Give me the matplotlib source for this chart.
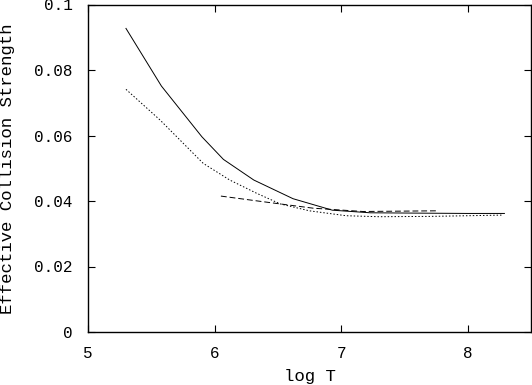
import matplotlib
matplotlib.use("Agg")
import matplotlib.pyplot as plt

solid_x = [5.30, 5.58, 5.90, 6.07, 6.31, 6.62, 6.93, 7.23, 7.6, 8.0, 8.29]
solid_y = [0.0927, 0.0751, 0.0596, 0.0527, 0.0464, 0.0407, 0.0372, 0.0364, 0.0363, 0.0362, 0.0362]

dot_x = [5.30, 5.57, 5.91, 6.12, 6.33, 6.52, 6.75, 7.04, 7.30, 7.7, 8.0, 8.28]
dot_y = [0.0741, 0.0647, 0.0515, 0.0464, 0.0424, 0.0391, 0.0370, 0.0355, 0.0352, 0.0353, 0.0355, 0.0357]

dash_x = [6.05, 6.38, 6.78, 7.17, 7.75]
dash_y = [0.0415, 0.0398, 0.0378, 0.0368, 0.0370]

xticks = [5, 6, 7, 8]
yticks = [0, 0.02, 0.04, 0.06, 0.08, 0.1]
yticklabels = ["0", "0.02", "0.04", "0.06", "0.08", "0.1"]

plt.rcParams['font.family'] = ['Liberation Mono', 'DejaVu Sans Mono']
fig = plt.figure(figsize=(5.32, 3.85), dpi=100)
ax = fig.add_axes([88/532, 1-332/385, (531-88)/532, (332-4.5)/385])
ax.plot(solid_x, solid_y, color='black', lw=0.7, ls='-')
ax.plot(dot_x, dot_y, color='black', lw=0.7, ls=(0, (1.5, 2)))
ax.plot(dash_x, dash_y, color='black', lw=0.7, ls=(0, (6, 3)))
ax.set_xlim(5, 8.5)
ax.set_ylim(0, 0.1)
ax.set_xticks(xticks)
ax.set_xticklabels([str(t) for t in xticks])
ax.set_yticks(yticks)
ax.set_yticklabels(yticklabels)
ax.tick_params(axis='y', direction='in', right=True, length=5, width=0.8, labelsize=11.5, pad=11)
ax.tick_params(axis='x', direction='in', top=True, length=5, width=0.8, labelsize=11.5, pad=10)
for s in ax.spines.values():
    s.set_linewidth(1.0)
ax.set_xlabel("log T", fontsize=12.5, va='center')
ax.xaxis.set_label_coords(0.5, -(377-332)/327.5)
ax.set_ylabel("Effective Collision Strength", fontsize=12.5, va='center')
ax.yaxis.set_label_coords(-(88-8)/443, 0.5)
fig.savefig("out.png", dpi=100)
